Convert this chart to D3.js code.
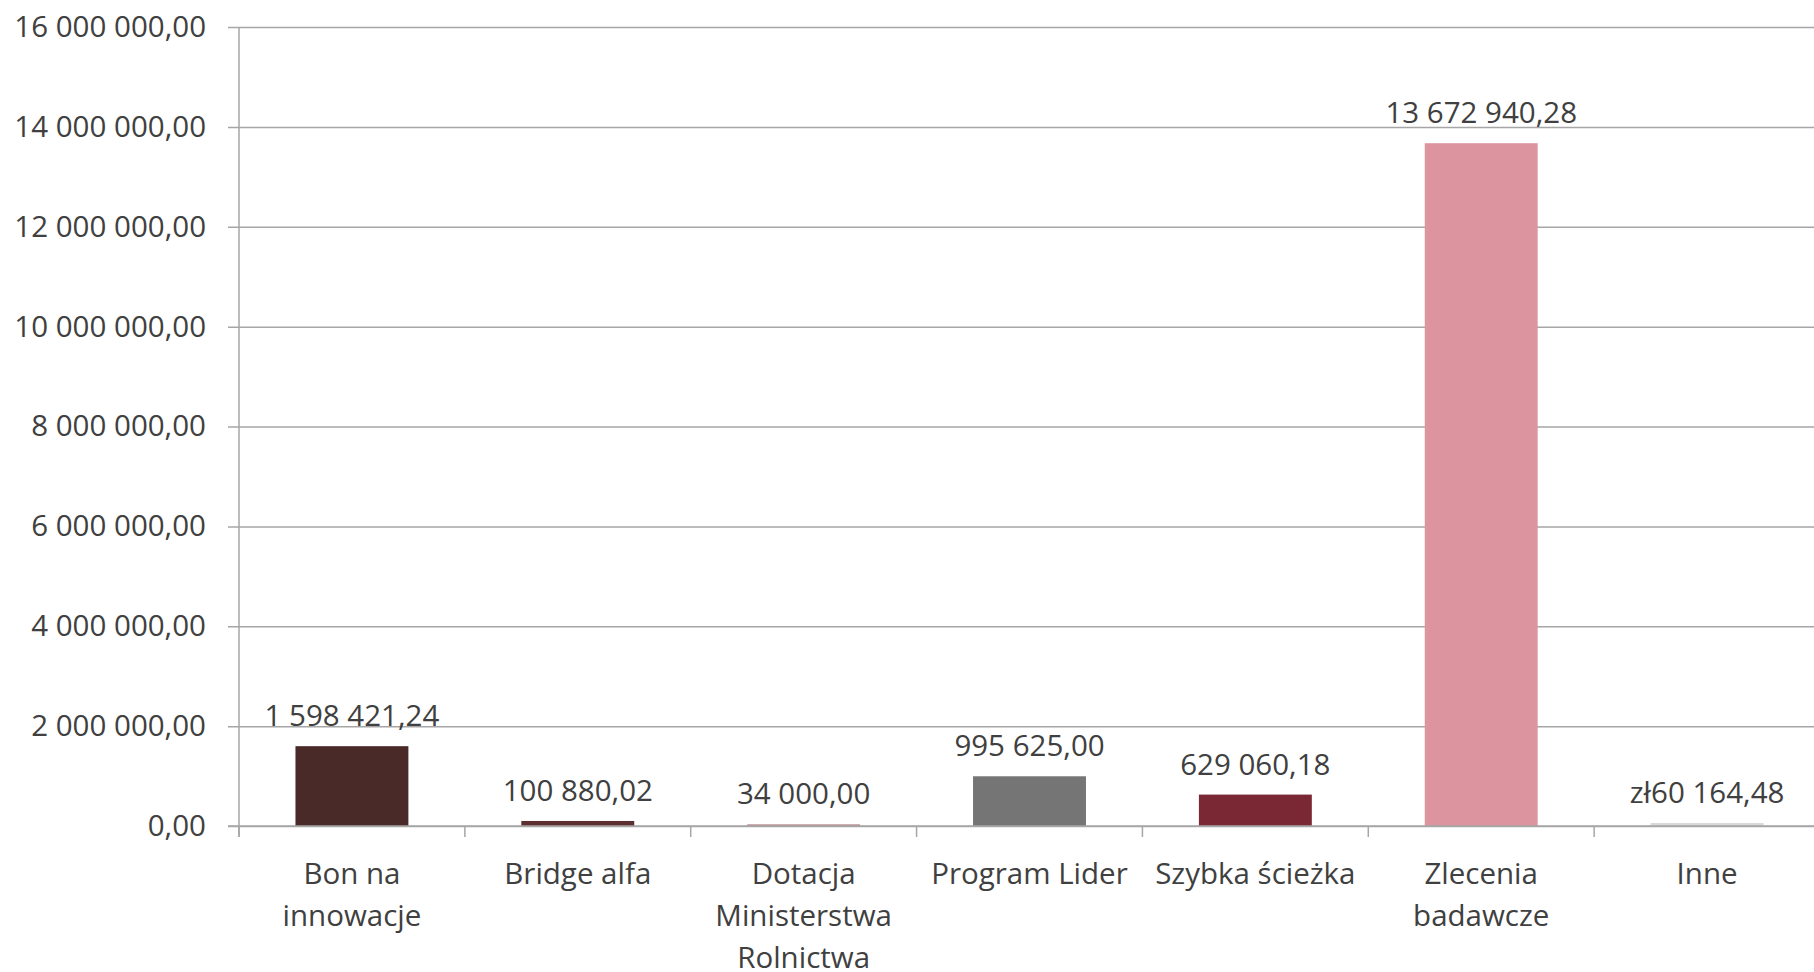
<!DOCTYPE html>
<html>
<head>
<meta charset="utf-8">
<script src="https://cdn.jsdelivr.net/npm/d3@7"></script>
<style>
  html, body { margin: 0; padding: 0; background: #ffffff; }
  svg { display: block; }
  text { font-family: "Open Sans", "Noto Sans", sans-serif; fill: #404040; }
</style>
</head>
<body>
<svg id="chart" width="1814" height="972"></svg>
<script>
// ---- data ----
const categories = ["Bon na innowacje", "Bridge alfa", "Dotacja Ministerstwa Rolnictwa", "Program Lider", "Szybka ścieżka", "Zlecenia badawcze", "Inne"];
const categoryLines = [["Bon na", "innowacje"], ["Bridge alfa"], ["Dotacja", "Ministerstwa", "Rolnictwa"], ["Program Lider"], ["Szybka ścieżka"], ["Zlecenia", "badawcze"], ["Inne"]];
const values = [1598421.24, 100880.02, 34000.00, 995625.00, 629060.18, 13672940.28, 60164.48];
const valueLabels = ["1 598 421,24", "100 880,02", "34 000,00", "995 625,00", "629 060,18", "13 672 940,28", "zł60 164,48"];
const barColors = ["#4a2a29", "#5e2f30", "#bc8b8d", "#757575", "#7b2835", "#dc959f", "#d9d9d9"];
const yTicks = [0, 2000000, 4000000, 6000000, 8000000, 10000000, 12000000, 14000000, 16000000];
const yTickLabels = ["0,00", "2 000 000,00", "4 000 000,00", "6 000 000,00", "8 000 000,00", "10 000 000,00", "12 000 000,00", "14 000 000,00", "16 000 000,00"];

// ---- layout ----
const plotLeft = 239, plotRight = 1820, plotTop = 27, plotBottom = 826;
const fontSize = 29.5;
const svg = d3.select("#chart");

const x = d3.scaleBand().domain(categories).range([plotLeft, plotRight]).paddingInner(0.5).paddingOuter(0.25);
const y = d3.scaleLinear().domain([0, 16000000]).range([plotBottom, plotTop]);

// gridlines + y labels
const yAxis = d3.axisLeft(y)
  .tickValues(yTicks)
  .tickSize(-(plotRight - plotLeft))
  .tickPadding(0)
  .tickFormat((d, i) => yTickLabels[i]);
const gy = svg.append("g").attr("transform", `translate(${plotLeft},0)`).call(yAxis);
gy.select(".domain").remove();
gy.selectAll(".tick line").attr("stroke", "#a6a6a6").attr("stroke-width", 1.5).attr("x1", -11);
gy.selectAll(".tick text")
  .attr("x", -33)
  .attr("font-size", fontSize)
  .attr("font-family", '"Open Sans", sans-serif')
  .attr("fill", "#404040");

// vertical axis line
svg.append("line")
  .attr("x1", plotLeft).attr("x2", plotLeft)
  .attr("y1", plotTop).attr("y2", plotBottom + 11)
  .attr("stroke", "#a6a6a6").attr("stroke-width", 1.5);

// category boundary ticks
const step = x.step();
const boundaries = d3.range(categories.length + 1).map(i => plotLeft + i * step);
svg.append("g").selectAll("line").data(boundaries).join("line")
  .attr("x1", d => d).attr("x2", d => d)
  .attr("y1", plotBottom).attr("y2", plotBottom + 11)
  .attr("stroke", "#a6a6a6").attr("stroke-width", 1.5);

// bars
svg.append("g").selectAll("rect").data(values).join("rect")
  .attr("x", (d, i) => x(categories[i]))
  .attr("width", x.bandwidth())
  .attr("y", d => y(d))
  .attr("height", d => plotBottom - y(d))
  .attr("fill", (d, i) => barColors[i]);

// redraw baseline on top
svg.append("line")
  .attr("x1", plotLeft - 11).attr("x2", plotRight)
  .attr("y1", plotBottom).attr("y2", plotBottom)
  .attr("stroke", "#a6a6a6").attr("stroke-width", 1.5);

// value labels
svg.append("g").selectAll("text").data(values).join("text")
  .attr("x", (d, i) => x(categories[i]) + x.bandwidth() / 2)
  .attr("y", d => y(d) - 20)
  .attr("text-anchor", "middle")
  .attr("font-size", fontSize)
  .text((d, i) => valueLabels[i]);

// category labels
const cg = svg.append("g").selectAll("text").data(categories).join("text")
  .attr("text-anchor", "middle")
  .attr("font-size", fontSize)
  .attr("x", d => x(d) + x.bandwidth() / 2)
  .attr("y", 884);
cg.each(function(d, i) {
  const t = d3.select(this);
  categoryLines[i].forEach((line, j) => {
    t.append("tspan")
      .attr("x", x(d) + x.bandwidth() / 2)
      .attr("y", 884 + j * 42)
      .text(line);
  });
});
</script>
</body>
</html>
